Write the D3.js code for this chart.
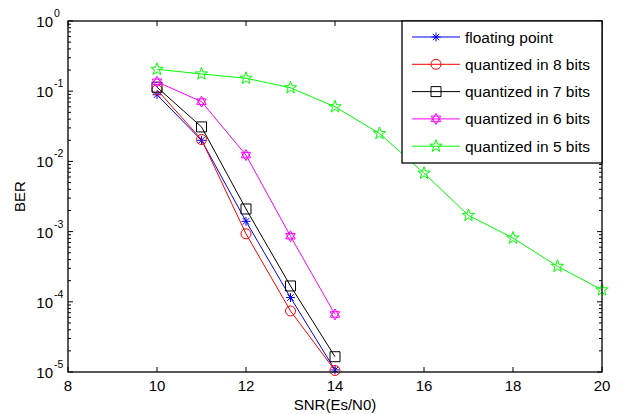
<!DOCTYPE html>
<html>
<head>
<meta charset="utf-8">
<script src="https://cdn.jsdelivr.net/npm/d3@7"></script>
<style>
  body { margin: 0; background: #fff; }
  text { font-family: "Liberation Sans", Arial, sans-serif; }
</style>
</head>
<body>
<svg id="chart" width="618" height="414"></svg>
<script>
var snr = [10, 11, 12, 13, 14];
var snr5 = [10, 11, 12, 13, 14, 15, 16, 17, 18, 19, 20];
var berFloat = [0.089, 0.020, 0.0014, 1.15e-4, 1.07e-5];
var ber8 = [0.105, 0.0205, 9.3e-4, 7.4e-5, 1.05e-5];
var ber7 = [0.114, 0.031, 0.0021, 1.68e-4, 1.65e-5];
var ber6 = [0.136, 0.071, 0.0123, 8.6e-4, 6.6e-5];
var ber5 = [0.205, 0.176, 0.153, 0.112, 0.060, 0.025, 0.0068, 0.0017, 8.1e-4, 3.2e-4, 1.48e-4];
var xTicks = [8, 10, 12, 14, 16, 18, 20];
var yExps = [0, -1, -2, -3, -4, -5];

var series = [
  {name: "floating point", color: "#0000ff", marker: "asterisk", x: snr, y: berFloat},
  {name: "quantized in 8 bits", color: "#ff0000", marker: "circle", x: snr, y: ber8},
  {name: "quantized in 7 bits", color: "#000000", marker: "square", x: snr, y: ber7},
  {name: "quantized in 6 bits", color: "#ff00ff", marker: "hexagram", x: snr, y: ber6},
  {name: "quantized in 5 bits", color: "#00ff00", marker: "pentagram", x: snr5, y: ber5}
];

var svg = d3.select("#chart");
var pLeft = 68, pRight = 602, pTop = 21, pBottom = 372;

var x = d3.scaleLinear().domain([8, 20]).range([pLeft, pRight]);
var y = d3.scaleLog().domain([1e-5, 1]).range([pBottom, pTop]);

// minor and major ticks, drawn inside on all four sides
var g = svg.append("g").attr("stroke", "#000").attr("stroke-width", 1);
xTicks.forEach(function (t) {
  g.append("line").attr("x1", x(t)).attr("x2", x(t)).attr("y1", pBottom).attr("y2", pBottom - 5);
  g.append("line").attr("x1", x(t)).attr("x2", x(t)).attr("y1", pTop).attr("y2", pTop + 5);
});
y.ticks().forEach(function (t) {
  var major = Math.abs(Math.log10(t) - Math.round(Math.log10(t))) < 1e-9;
  var len = major ? 5 : 3;
  g.append("line").attr("x1", pLeft).attr("x2", pLeft + len).attr("y1", y(t)).attr("y2", y(t));
  g.append("line").attr("x1", pRight).attr("x2", pRight - len).attr("y1", y(t)).attr("y2", y(t));
});

// series lines and markers
function markerPath(type) {
  var p = d3.path();
  if (type === "asterisk") {
    var r = 4.5, d = 3.2;
    p.moveTo(0, -r); p.lineTo(0, r);
    p.moveTo(-d, -d); p.lineTo(d, d);
    p.moveTo(-d, d); p.lineTo(d, -d);
    p.moveTo(-r, 0); p.lineTo(r, 0);
  } else if (type === "square") {
    p.rect(-5, -5, 10, 10);
  } else if (type === "circle") {
    p.moveTo(5, 0);
    p.arc(0, 0, 5, 0, 2 * Math.PI);
  } else if (type === "hexagram") {
    var R = 5.5;
    [0, 1].forEach(function (k) {
      for (var i = 0; i < 3; i++) {
        var a = -Math.PI / 2 + k * Math.PI + i * 2 * Math.PI / 3;
        if (i === 0) p.moveTo(R * Math.cos(a), R * Math.sin(a));
        else p.lineTo(R * Math.cos(a), R * Math.sin(a));
      }
      p.closePath();
    });
  } else if (type === "pentagram") {
    var Ro = 6.5, Ri = 2.6;
    for (var i = 0; i < 10; i++) {
      var a = -Math.PI / 2 + i * Math.PI / 5;
      var rr = i % 2 === 0 ? Ro : Ri;
      if (i === 0) p.moveTo(rr * Math.cos(a), rr * Math.sin(a));
      else p.lineTo(rr * Math.cos(a), rr * Math.sin(a));
    }
    p.closePath();
  }
  return p.toString();
}

var line = d3.line().x(function (d) { return x(d[0]); }).y(function (d) { return y(d[1]); });

series.forEach(function (s) {
  var pts = s.x.map(function (v, i) { return [v, s.y[i]]; });
  svg.append("path").attr("d", line(pts)).attr("fill", "none")
    .attr("stroke", s.color).attr("stroke-width", 1);
  svg.selectAll(null).data(pts).enter().append("path")
    .attr("d", markerPath(s.marker))
    .attr("transform", function (d) { return "translate(" + x(d[0]) + "," + y(d[1]) + ")"; })
    .attr("fill", "none").attr("stroke", s.color).attr("stroke-width", 1);
});

// axis box
svg.append("rect").attr("x", pLeft).attr("y", pTop).attr("width", pRight - pLeft).attr("height", pBottom - pTop)
  .attr("fill", "none").attr("stroke", "#000").attr("stroke-width", 1.3);

// tick labels
svg.selectAll(".xl").data(xTicks).enter().append("text")
  .attr("x", function (d) { return x(d); }).attr("y", pBottom + 19)
  .attr("text-anchor", "middle").attr("font-size", 15).text(function (d) { return d; });

yExps.forEach(function (e) {
  svg.append("text").attr("x", 53).attr("y", y(Math.pow(10, e)) + 6)
    .attr("text-anchor", "end").attr("font-size", 15).text("10");
  svg.append("text").attr("x", 54).attr("y", y(Math.pow(10, e)) - 4)
    .attr("font-size", 10.5).text(e);
});

// axis titles
svg.append("text").attr("x", (pLeft + pRight) / 2).attr("y", 410).attr("text-anchor", "middle")
  .attr("font-size", 15).text("SNR(Es/N0)");
svg.append("text").attr("transform", "translate(25," + ((pTop + pBottom) / 2) + ") rotate(-90)")
  .attr("text-anchor", "middle").attr("font-size", 15).text("BER");

// legend
var lg = svg.append("g");
lg.append("rect").attr("x", 402).attr("y", pTop).attr("width", pRight - 402).attr("height", 142)
  .attr("fill", "#fff").attr("stroke", "#000").attr("stroke-width", 1.3);
series.forEach(function (s, i) {
  var ly = 37 + i * 27.3;
  lg.append("line").attr("x1", 412).attr("x2", 460).attr("y1", ly).attr("y2", ly)
    .attr("stroke", s.color).attr("stroke-width", 1);
  lg.append("path").attr("d", markerPath(s.marker)).attr("transform", "translate(436," + ly + ")")
    .attr("fill", "none").attr("stroke", s.color);
  lg.append("text").attr("x", 465).attr("y", ly + 5.5).attr("font-size", 15.5).text(s.name);
});
</script>
</body>
</html>
